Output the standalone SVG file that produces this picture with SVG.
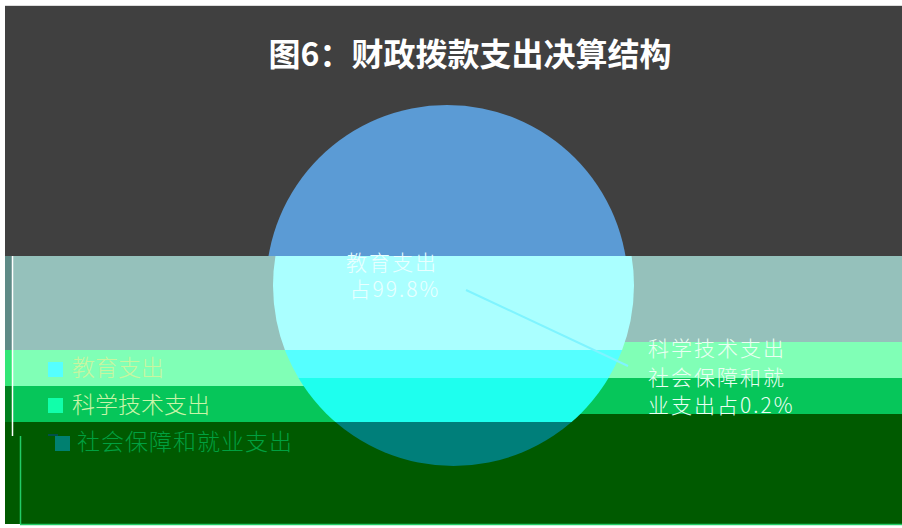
<svg xmlns="http://www.w3.org/2000/svg" width="902" height="528" viewBox="0 0 902 528">
<style>
.title{font-family:"Noto Sans CJK SC","Liberation Sans",sans-serif;font-size:32px;font-weight:bold;fill:#ffffff}
.lbl{font-family:"Noto Sans CJK SC","Liberation Sans",sans-serif;font-size:23px;font-weight:300}
.plbl{font-family:"Noto Sans CJK SC","Liberation Sans",sans-serif;font-size:21px;font-weight:300;letter-spacing:2px}
</style>
<defs>
<clipPath id="top"><rect x="0" y="0" width="902" height="256"/></clipPath>
<clipPath id="b1"><rect x="0" y="256" width="902" height="94"/></clipPath>
<clipPath id="b2"><rect x="0" y="350" width="902" height="28"/></clipPath>
<clipPath id="b3"><rect x="0" y="378" width="902" height="44"/></clipPath>
<clipPath id="b4"><rect x="0" y="422" width="902" height="60"/></clipPath>
</defs>
<rect width="902" height="528" fill="#ffffff"/>
<g id="background">
<rect x="5" y="5" width="897" height="251" fill="#404040"/>
<line x1="5" y1="5.5" x2="902" y2="5.5" stroke="#dcdcdc" stroke-width="1"/>
<rect x="5" y="256" width="449" height="94" fill="#95c1bb"/>
<rect x="5" y="350" width="449" height="36" fill="#80ffb6"/>
<rect x="5" y="386" width="449" height="36" fill="#06c65a"/>
<rect x="5" y="422" width="449" height="102" fill="#005a00"/>
<rect x="454" y="256" width="448" height="86" fill="#95c1bb"/>
<rect x="454" y="342" width="448" height="36" fill="#80ffb6"/>
<rect x="454" y="378" width="448" height="36" fill="#06c65a"/>
<rect x="454" y="414" width="448" height="110" fill="#005a00"/>
<rect x="5" y="256" width="7" height="94" fill="#5e8a86"/>
<rect x="5" y="350" width="7" height="36" fill="#33e676"/>
<rect x="5" y="386" width="7" height="36" fill="#007f1e"/>
<line x1="12.5" y1="256" x2="12.5" y2="436" stroke="#ffffff" stroke-width="1.5"/>
<line x1="20.5" y1="436" x2="20.5" y2="524" stroke="#22cc66" stroke-width="1.5"/>
<line x1="20" y1="524.5" x2="902" y2="524.5" stroke="#22cc66" stroke-width="1.5"/>
</g>
<g id="title"><text class="title" x="470" y="66" text-anchor="middle">图6：财政拨款支出决算结构</text></g>
<g id="pie">
<circle cx="447" cy="286" r="181" fill="#5b9bd5" clip-path="url(#top)"/>
<circle cx="453.5" cy="285.5" r="180.5" fill="#aaffff" clip-path="url(#b1)"/>
<circle cx="453.5" cy="285.5" r="180.5" fill="#55ffff" clip-path="url(#b2)"/>
<circle cx="453.5" cy="285.5" r="180.5" fill="#1effee" clip-path="url(#b3)"/>
<circle cx="453.5" cy="285.5" r="180.5" fill="#007f7a" clip-path="url(#b4)"/>
</g>
<g id="connectors">
<line x1="466" y1="290" x2="628" y2="366" stroke="#7ff4ff" stroke-width="2"/>
</g>
<g id="label-edu">
<text class="plbl" fill="#eaffff" text-anchor="middle"><tspan x="392" y="270">教育支出</tspan><tspan x="395" y="297">占99.8%</tspan></text>
</g>
<g id="label-other">
<text class="plbl" fill="#eafff2"><tspan x="648" y="356">科学技术支出</tspan><tspan x="648" y="385">社会保障和就</tspan><tspan x="648" y="413">业支出占0.2%</tspan></text>
</g>
<g id="legend">
<rect x="48" y="362" width="15" height="15" fill="#55ffff"/>
<text class="lbl" x="72" y="376" fill="#c8f5a0">教育支出</text>
<rect x="48" y="398" width="15" height="15" fill="#11ffaa"/>
<text class="lbl" x="72" y="413" fill="#c8f5a8">科学技术支出</text>
<rect x="48" y="434" width="10" height="2" fill="#00504a"/>
<rect x="55" y="436" width="15" height="15" fill="#008070"/>
<text class="lbl" x="77" y="450" fill="#00a040" letter-spacing="1">社会保障和就业支出</text>
</g>
</svg>
